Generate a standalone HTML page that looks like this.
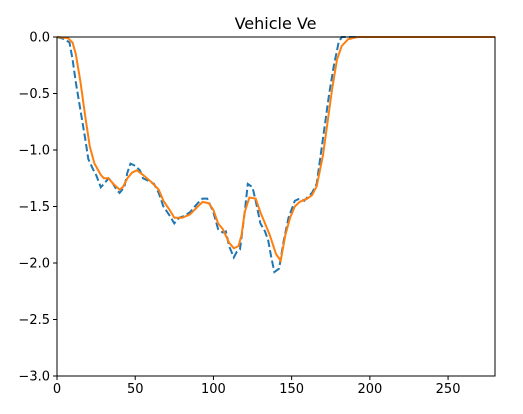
<!DOCTYPE html>
<html><head><meta charset="utf-8"><style>
body{margin:0;background:#fff;}
svg text{font-family:"DejaVu Sans","Liberation Sans",sans-serif;}
</style></head><body>
<svg id="chart" width="523" height="409" xmlns="http://www.w3.org/2000/svg">
<rect width="523" height="409" fill="#fff"/>
<text x="275.5" y="29" font-size="16" text-anchor="middle">Vehicle Ve</text>
<g id="plot"></g>
</svg>
<script>
const xTicks=[0,50,100,150,200,250];
const yTicks=[0,-0.5,-1,-1.5,-2,-2.5,-3];
const yTickLabels=["0.0","−0.5","−1.0","−1.5","−2.0","−2.5","−3.0"];
const blueT=[0,5,8,10,12,15,18,20,23,25,28,30,33,35,38,40,43,45,47,50,53,55,58,62,65,68,72,75,78,82,85,90,93,96,100,103,106,108,110,113,115,117,120,122,125,127,130,133,135,137,139,142,145,148,152,155,158,160,163,166,168,171,174,177,180,182,280];
const blueV=[0,-0.02,-0.05,-0.2,-0.4,-0.65,-0.9,-1.08,-1.17,-1.22,-1.33,-1.3,-1.25,-1.28,-1.35,-1.38,-1.33,-1.2,-1.12,-1.14,-1.18,-1.25,-1.27,-1.3,-1.38,-1.5,-1.58,-1.65,-1.6,-1.58,-1.55,-1.47,-1.43,-1.43,-1.55,-1.7,-1.73,-1.72,-1.85,-1.95,-1.9,-1.88,-1.55,-1.3,-1.33,-1.45,-1.65,-1.72,-1.8,-1.95,-2.08,-2.05,-1.8,-1.6,-1.45,-1.43,-1.45,-1.42,-1.38,-1.3,-1.1,-0.8,-0.5,-0.25,-0.05,0,0];
const orangeT=[0,7,10,12,15,18,21,24,28,30,33,36,40,42,45,48,51,55,60,65,68,72,75,80,85,90,93,97,100,103,106,110,113,116,118,120,123,127,130,133,136,140,143,146,149,152,155,160,163,166,170,173,176,179,182,186,192,280];
const orangeV=[0,-0.01,-0.05,-0.15,-0.4,-0.7,-0.97,-1.12,-1.22,-1.25,-1.25,-1.3,-1.35,-1.33,-1.25,-1.2,-1.18,-1.22,-1.28,-1.35,-1.45,-1.53,-1.6,-1.6,-1.57,-1.5,-1.46,-1.47,-1.53,-1.65,-1.7,-1.82,-1.87,-1.85,-1.75,-1.55,-1.42,-1.43,-1.55,-1.65,-1.75,-1.92,-1.98,-1.75,-1.6,-1.5,-1.46,-1.43,-1.4,-1.32,-1.05,-0.75,-0.45,-0.2,-0.08,-0.02,0,0];
const L=57,R=495,T=37,B=376,xMin=0,xMax=280,yMin=-3,yMax=0;
const sx=v=>L+(v-xMin)/(xMax-xMin)*(R-L);
const sy=v=>T+(yMax-v)/(yMax-yMin)*(B-T);
const NS="http://www.w3.org/2000/svg";
const g=document.getElementById('plot');
function mk(tag,attrs){const e=document.createElementNS(NS,tag);for(const k in attrs)e.setAttribute(k,attrs[k]);g.appendChild(e);return e;}
function path(ts,vs){return ts.map((t,i)=>(i?'L':'M')+sx(t).toFixed(1)+','+sy(vs[i]).toFixed(1)).join(' ');}
const cp=document.createElementNS(NS,'clipPath');cp.setAttribute('id','clip');
const cr=document.createElementNS(NS,'rect');cr.setAttribute('x',L);cr.setAttribute('y',T-1);cr.setAttribute('width',R-L);cr.setAttribute('height',B-T+2);cp.appendChild(cr);g.appendChild(cp);
const bl=mk('path',{d:path(blueT,blueV),fill:'none',stroke:'#1f77b4','stroke-width':2,'stroke-dasharray':'7.4,3.2','clip-path':'url(#clip)'});


const ol=mk('path',{d:path(orangeT,orangeV),fill:'none',stroke:'#ff7f0e','stroke-width':2,'clip-path':'url(#clip)'});


const fr=mk('rect',{x:L,y:T,width:R-L,height:B-T,fill:'none',stroke:'#000','stroke-width':1});


xTicks.forEach(t=>{
 const x=sx(t);
 const tk=mk('line',{x1:x,x2:x,y1:B,y2:B+4,stroke:'#000'});
 
 
 const tx=mk('text',{x:x,y:B+17,'font-size':13,'text-anchor':'middle'});tx.textContent=t;
 
 
});
yTicks.forEach((v,i)=>{
 const y=sy(v);
 const tk=mk('line',{x1:L-4,x2:L,y1:y,y2:y,stroke:'#000'});
 
 
 const tx=mk('text',{x:L-7,y:y+4.5,'font-size':13,'text-anchor':'end'});tx.textContent=yTickLabels[i];
 
 
});
</script>
</body></html>
